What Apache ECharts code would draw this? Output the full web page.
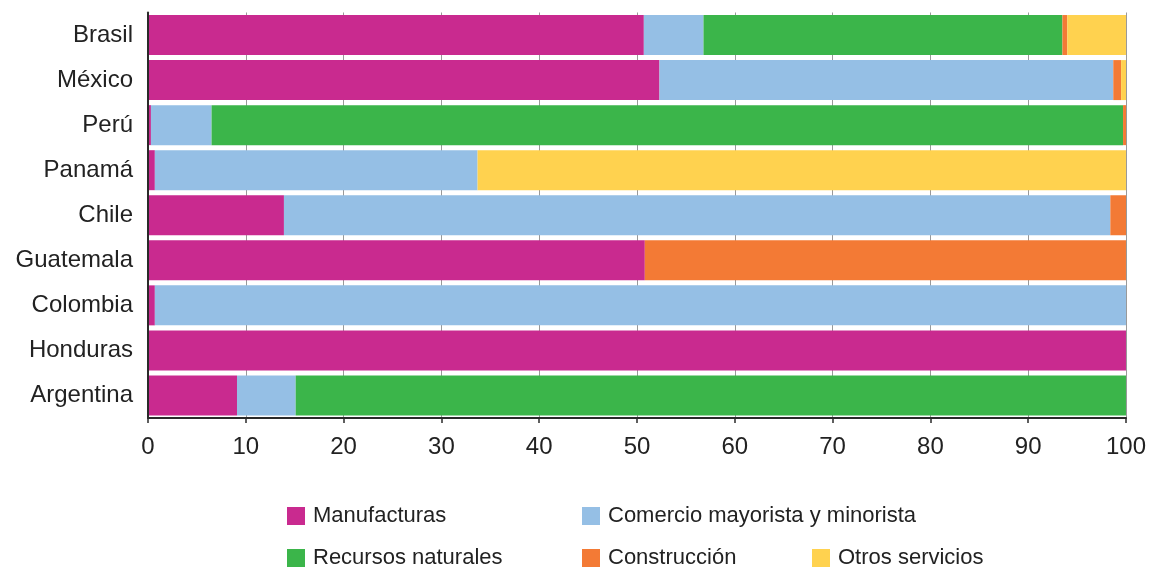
<!DOCTYPE html>
<html>
<head>
<meta charset="utf-8">
<script src="https://cdn.jsdelivr.net/npm/echarts@6/dist/echarts.min.js"></script>
<style>
  html, body { margin: 0; padding: 0; background: #fff; }
  #chart { width: 1149px; height: 568px; }
</style>
</head>
<body>
<div id="chart"></div>
<script>
// Countries, listed top to bottom
const countries = ['Brasil', 'México', 'Perú', 'Panamá', 'Chile', 'Guatemala', 'Colombia', 'Honduras', 'Argentina'];

// Share of each sector (%), same order as countries
const manufacturas = [50.7, 52.3, 0.3, 0.7, 13.9, 50.8, 0.7, 100, 9.1];
const comercio     = [6.1, 46.4, 6.2, 33.0, 84.5, 0, 99.3, 0, 6.0];
const recursos     = [36.7, 0, 93.2, 0, 0, 0, 0, 0, 84.9];
const construccion = [0.5, 0.8, 0.3, 0, 1.6, 49.2, 0, 0, 0];
const otros        = [6.0, 0.5, 0, 66.3, 0, 0, 0, 0, 0];

const sectorNames = ['Manufacturas', 'Comercio mayorista y minorista', 'Recursos naturales', 'Construcción', 'Otros servicios'];
const sectorValues = [manufacturas, comercio, recursos, construccion, otros];
const sectorColors = ['#C92A8F', '#95BFE5', '#3BB54A', '#F37A35', '#FFD24F'];

const FONT = '"Liberation Sans", Arial, Helvetica, sans-serif';

// One legend block per entry so each sits in its own column
const legendSpots = [
  { left: 287, top: 505 },
  { left: 582, top: 505 },
  { left: 287, top: 547 },
  { left: 582, top: 547 },
  { left: 812, top: 547 }
];

const chart = echarts.init(document.getElementById('chart'), null, { renderer: 'canvas' });

chart.setOption({
  animation: false,
  backgroundColor: '#ffffff',
  grid: { left: 148, right: 20, top: 12.5, bottom: 150, containLabel: false },
  legend: sectorNames.map((name, i) => ({
    data: [name],
    left: legendSpots[i].left,
    top: legendSpots[i].top,
    padding: 0,
    itemWidth: 18,
    itemHeight: 18,
    icon: 'rect',
    selectedMode: false,
    textStyle: { fontFamily: FONT, fontSize: 22, color: '#222', padding: [0, 0, 0, 3] }
  })),
  xAxis: {
    type: 'value',
    min: 0,
    max: 100,
    interval: 10,
    axisLine: { show: true, lineStyle: { color: '#2a2a2a', width: 2 } },
    axisTick: { show: true, length: 5, lineStyle: { color: '#2a2a2a', width: 1.5 } },
    axisLabel: { fontFamily: FONT, fontSize: 24, color: '#222', margin: 17 },
    splitLine: { show: true, lineStyle: { color: '#999', width: 1 } }
  },
  yAxis: {
    type: 'category',
    inverse: true,
    data: countries,
    z: 3,
    axisLine: { show: true, lineStyle: { color: '#2a2a2a', width: 2 } },
    axisTick: { show: false },
    axisLabel: { fontFamily: FONT, fontSize: 24, color: '#222', margin: 15 },
    splitLine: { show: false }
  },
  series: sectorNames.map((name, i) => ({
    name: name,
    type: 'bar',
    stack: 'total',
    barWidth: 40,
    itemStyle: { color: sectorColors[i] },
    emphasis: { disabled: true },
    data: sectorValues[i]
  }))
});
</script>
</body>
</html>
